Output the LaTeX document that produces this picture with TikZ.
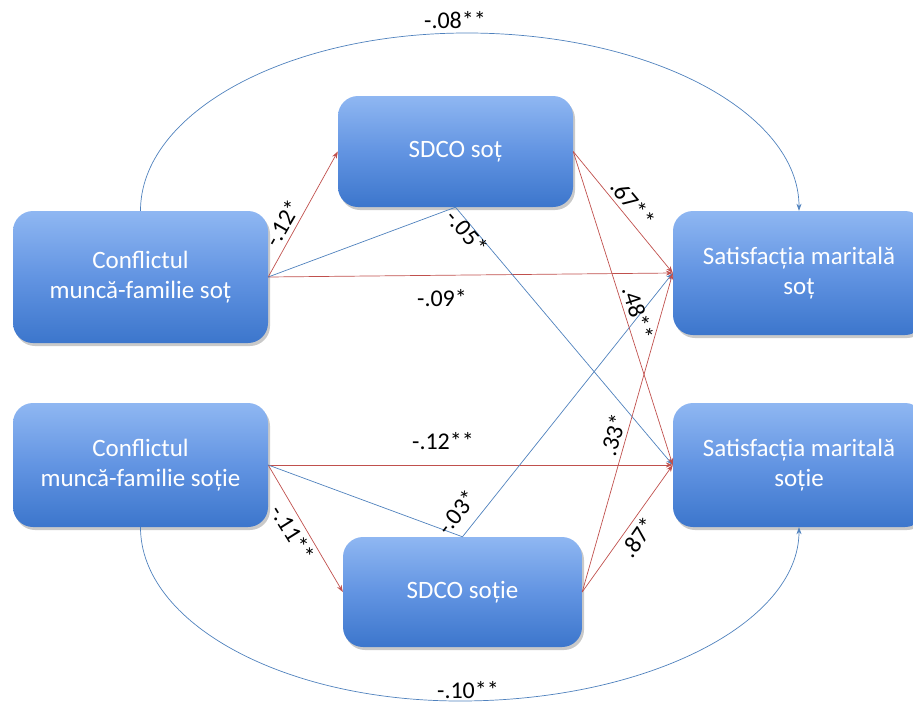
\documentclass[tikz,border=0pt]{standalone}
\usepackage{fontspec}
\setmainfont{Carlito}
\usetikzlibrary{arrows.meta,shadows}
\definecolor{redline}{RGB}{192,80,77}
\definecolor{blueline}{RGB}{79,129,189}
\definecolor{boxtop}{RGB}{143,183,242}
\definecolor{boxmid}{RGB}{98,148,226}
\definecolor{boxbot}{RGB}{60,118,204}
\begin{document}
\begin{tikzpicture}[x=1pt,y=-1pt,
  vbox/.style={rectangle, rounded corners=20pt, draw=none,
    top color=boxtop, bottom color=boxbot, middle color=boxmid,
    text=white, align=center, font=\fontsize{25}{30}\selectfont, inner sep=0pt,
    drop shadow={shadow xshift=2pt,shadow yshift=-3pt,opacity=0.3,fill=black!70}},
  rl/.style={draw=redline, line width=0.7pt, -{Stealth[length=7pt,width=5pt]}},
  bl/.style={draw=blueline, line width=0.7pt, -{Stealth[length=7pt,width=5pt]}},
  lab/.style={font=\fontsize{24}{28}\selectfont, inner sep=1pt, text=black}
]
\path[use as bounding box, clip] (0,0) rectangle (913,704);

\node[vbox, minimum width=255pt, minimum height=132pt] (A) at (140.5,277) {Conflictul\\muncă-familie soț};
\node[vbox, minimum width=235pt, minimum height=111pt] (S1) at (455.5,151.5) {SDCO soț};
\node[vbox, minimum width=252pt, minimum height=124pt] (W1) at (799,273) {Satisfacția maritală\\soț};
\node[vbox, minimum width=255pt, minimum height=124pt] (B) at (140.5,465) {Conflictul\\muncă-familie soție};
\node[vbox, minimum width=239pt, minimum height=110pt] (S2) at (462.5,592) {SDCO soție};
\node[vbox, minimum width=252pt, minimum height=124pt] (W2) at (799,465) {Satisfacția maritală\\soție};

% direct and mediated paths
\draw[rl] (A.east) -- (S1.west);
\draw[rl] (A.east) -- (W1.west);
\draw[bl] (A.east) -- (S1.south) -- (W2.west);
\draw[rl] (B.east) -- (W2.west);
\draw[rl] (B.east) -- (S2.west);
\draw[bl] (B.east) -- (S2.north) -- (W1.west);
\draw[rl] (S1.east) -- (W1.west);
\draw[rl] (S1.east) -- (W2.west);
\draw[rl] (S2.east) -- (W1.west);
\draw[rl] (S2.east) -- (W2.west);

% cross curves
\coordinate (top) at (467,33);
\coordinate (bot) at (460,701);
\draw[bl] (A.north) .. controls (140.5,113) and (286,33) .. (top)
  .. controls (651,33) and (799,113) .. (W1.north);
\draw[bl] (B.south) .. controls (140.5,623) and (283,701) .. (bot)
  .. controls (647,701) and (799,623) .. (W2.south);

% labels
\node[lab] (l1) at (455,20) {-.08**};
\node[lab, rotate=60] (l2) at (283,223) {-.12*};
\node[lab, rotate=-49] (l3) at (467,232) {-.05*};
\node[lab] (l4) at (442,298) {-.09*};
\node[lab, rotate=-50] (l5) at (633,203) {.67**};
\node[lab, rotate=-72] (l6) at (638,313) {.48**};
\node[lab] (l7) at (443,441) {-.12**};
\node[lab, rotate=52] (l8) at (457,512) {-.03*};
\node[lab, rotate=74] (l9) at (613,435) {.33*};
\node[lab, rotate=-58] (l10) at (293,533) {-.11**};
\node[lab, rotate=55] (l11) at (638,537) {.87*};
\node[lab] (l12) at (468,690) {-.10**};
\end{tikzpicture}
\end{document}
